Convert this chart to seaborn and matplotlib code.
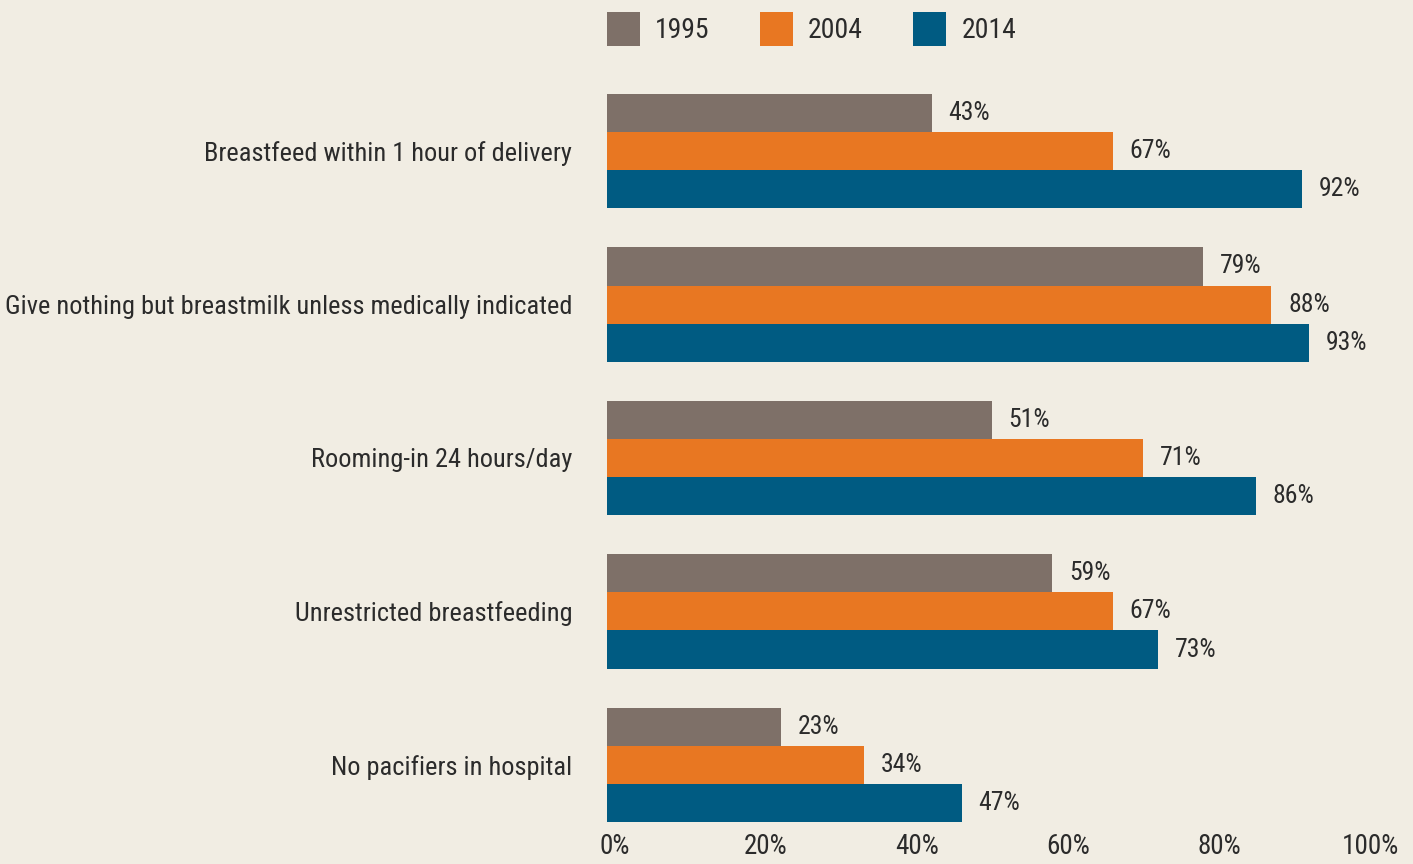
import numpy as np
import pandas as pd
import matplotlib
matplotlib.use('Agg')
import matplotlib.pyplot as plt
import matplotlib.transforms as mtransforms
from matplotlib import font_manager
from matplotlib.patches import Patch
import seaborn as sns

practices = ['Breastfeed within 1 hour of delivery',
             'Give nothing but breastmilk unless medically indicated',
             'Rooming-in 24 hours/day',
             'Unrestricted breastfeeding',
             'No pacifiers in hospital']
years = ['1995', '2004', '2014']
v1995 = [43, 79, 51, 59, 23]
v2004 = [67, 88, 71, 67, 34]
v2014 = [92, 93, 86, 73, 47]
colors = ['#7e7068', '#e87722', '#005b82']
bg = '#f1ede3'

df = pd.DataFrame({
    'practice': practices * 3,
    'year': [y for y in years for _ in practices],
    'value': v1995 + v2004 + v2014,
})

# look for a narrow font, the reference uses a condensed grotesque
names = {f.name for f in font_manager.fontManager.ttflist}
cond = [f for f in font_manager.fontManager.ttflist
        if f.stretch in ('condensed', 'semi-condensed', 'extra-condensed', 600, 500, 700)
        or 'Narrow' in f.name or 'Condensed' in f.name]
family = None
for want in ['Liberation Sans Narrow', 'DejaVu Sans Condensed', 'Roboto Condensed',
             'Open Sans Condensed', 'Noto Sans Condensed']:
    if want in names:
        family = want
        break
stretch = 'normal'
if family is None:
    for f in cond:
        if f.name in ('DejaVu Sans', 'Roboto', 'Noto Sans', 'Open Sans'):
            family = f.name
            stretch = 'condensed'
            break
narrow = family is not None
if family is None:
    family = 'DejaVu Sans'

sns.set_style('white')
plt.rcParams['font.family'] = [family, 'DejaVu Sans']
plt.rcParams['font.stretch'] = stretch

lab_size = 19 if narrow else 14
val_size = 18.5 if narrow else 14
tick_size = 19.5 if narrow else 15
leg_size = 20 if narrow else 15

fig = plt.figure(figsize=(14.13, 8.64), dpi=100, facecolor=bg)
ax = fig.add_axes([607/1413, 1-822/864, (1362-607)/1413, (822-94)/864])
ax.set_facecolor(bg)

sns.barplot(data=df, y='practice', x='value', hue='year', orient='h',
            palette=colors, width=0.745, saturation=1, ax=ax,
            edgecolor='none', linewidth=0, legend=False)

for c in ax.containers:
    ax.bar_label(c, fmt='%d%%', padding=12, fontsize=val_size, color='#2b2b2b')

ax.set_xlim(0, 100)
ax.set_ylim(4 + 0.3725, -0.3725)
ax.set_xticks([0, 20, 40, 60, 80, 100])
ax.set_xticklabels(['0%', '20%', '40%', '60%', '80%', '100%'])
ax.tick_params(axis='x', length=0, pad=8, labelsize=tick_size, labelcolor='#2b2b2b')
ax.tick_params(axis='y', length=0, pad=25, labelsize=lab_size, labelcolor='#2b2b2b')
shift = mtransforms.ScaledTranslation(0.08, 0, fig.dpi_scale_trans)
for lab in ax.get_xticklabels():
    lab.set_transform(lab.get_transform() + shift)
ax.set_xlabel('')
ax.set_ylabel('')
for s in ax.spines.values():
    s.set_visible(False)

handles = [Patch(facecolor=c, edgecolor='none', label=y) for c, y in zip(colors, years)]
leg = fig.legend(handles=handles, loc='upper left', bbox_to_anchor=(607/1413, 1-12/864),
                 ncol=3, frameon=False, fontsize=leg_size, handlelength=33/(leg_size*1.389),
                 handleheight=1.5, handletextpad=0.55, columnspacing=1.8,
                 borderaxespad=0, borderpad=0)
for t in leg.get_texts():
    t.set_color('#2b2b2b')

fig.savefig('out.png', dpi=100, facecolor=bg)
